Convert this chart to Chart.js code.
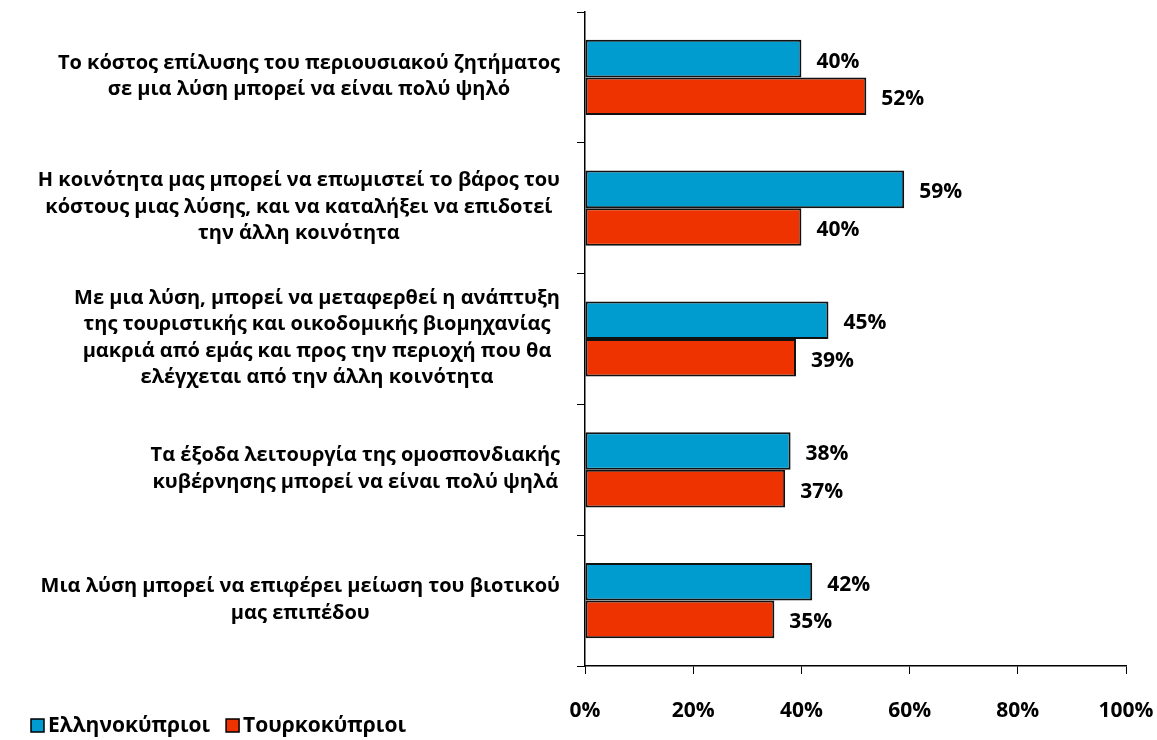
<!DOCTYPE html>
<html lang="el">
  <head>
    <meta charset="UTF-8" />
    <title>Ανησυχίες για τη λύση</title>
    <script src="https://cdn.jsdelivr.net/npm/chart.js"></script>
    <style>
      html, body {
        margin: 0;
        padding: 0;
        background: #fff;
      }
      .chart-container {
        position: relative;
        width: 1157px;
        height: 740px;
      }
    </style>
  </head>
  <body>
    <div class="chart-container">
      <canvas id="concernsChart"></canvas>
    </div>

    <script>
      const categories = [
        ["Το κόστος επίλυσης του περιουσιακού ζητήματος", "σε μια λύση μπορεί να είναι πολύ ψηλό"],
        ["Η κοινότητα μας μπορεί να επωμιστεί το βάρος του", "κόστους μιας λύσης, και να καταλήξει να επιδοτεί", "την άλλη κοινότητα"],
        ["Με μια λύση, μπορεί να μεταφερθεί η ανάπτυξη", "της τουριστικής και οικοδομικής βιομηχανίας", "μακριά από εμάς και προς την περιοχή που θα", "ελέγχεται από την άλλη κοινότητα"],
        ["Τα έξοδα λειτουργία της ομοσπονδιακής", "κυβέρνησης μπορεί να είναι πολύ ψηλά"],
        ["Μια λύση μπορεί να επιφέρει μείωση του βιοτικού", "μας επιπέδου"],
      ]
      const greekCypriots = [40, 59, 45, 38, 42]
      const turkishCypriots = [52, 40, 39, 37, 35]
      const seriesNames = ["Ελληνοκύπριοι", "Τουρκοκύπριοι"]
      const xTicks = [0, 20, 40, 60, 80, 100]

      const FONT = '"Open Sans", sans-serif'

      // category labels: each block centred on its own widest line, right edge near the axis
      const categoryLabels = {
        id: "categoryLabels",
        afterDraw(chart) {
          const ctx = chart.ctx
          const y = chart.scales.y
          ctx.save()
          ctx.font = "bold 20px " + FONT
          ctx.fillStyle = "#000"
          ctx.textAlign = "center"
          ctx.textBaseline = "middle"
          const lineH = 26.5
          categories.forEach((lines, i) => {
            const widest = Math.max(...lines.map((l) => ctx.measureText(l).width))
            const cx = y.right - 25 - widest / 2
            const cy = y.getPixelForValue(i) - 1
            const top = cy - ((lines.length - 1) * lineH) / 2
            lines.forEach((l, j) => ctx.fillText(l, cx, top + j * lineH))
          })
          ctx.restore()
        },
      }

      const valueLabels = {
        id: "valueLabels",
        afterDatasetsDraw(chart) {
          const ctx = chart.ctx
          ctx.save()
          ctx.font = "bold 21px " + FONT
          ctx.fillStyle = "#000"
          ctx.textAlign = "left"
          ctx.textBaseline = "middle"
          chart.data.datasets.forEach((ds, di) => {
            chart.getDatasetMeta(di).data.forEach((bar, i) => {
              ctx.fillText(ds.data[i] + "%", bar.x + 15, bar.y + 3)
            })
          })
          ctx.restore()
        },
      }

      const bottomLegend = {
        id: "bottomLegend",
        afterDraw(chart) {
          const ctx = chart.ctx
          ctx.save()
          ctx.font = "bold 21px " + FONT
          ctx.textBaseline = "middle"
          let x = 31
          const cy = 726
          chart.data.datasets.forEach((ds) => {
            ctx.fillStyle = ds.backgroundColor
            ctx.fillRect(x, cy - 7, 13, 13)
            ctx.strokeStyle = "#000"
            ctx.lineWidth = 1.5
            ctx.strokeRect(x, cy - 7, 13, 13)
            ctx.fillStyle = "#000"
            ctx.fillText(ds.label, x + 17, cy)
            x += 17 + ctx.measureText(ds.label).width + 16
          })
          ctx.restore()
        },
      }

      const ctx = document.getElementById("concernsChart").getContext("2d")
      new Chart(ctx, {
        type: "bar",
        data: {
          labels: categories,
          datasets: [
            {
              label: seriesNames[0],
              data: greekCypriots,
              backgroundColor: "#009BCF",
              borderColor: "#111",
              borderWidth: 2,
              borderSkipped: false,
            },
            {
              label: seriesNames[1],
              data: turkishCypriots,
              backgroundColor: "#EE3300",
              borderColor: "#111",
              borderWidth: 2,
              borderSkipped: false,
            },
          ],
        },
        options: {
          indexAxis: "y",
          responsive: true,
          maintainAspectRatio: false,
          animation: false,
          layout: { padding: { top: 12, right: 31, left: 0, bottom: 0 } },
          datasets: {
            bar: { categoryPercentage: 0.575, barPercentage: 1.0 },
          },
          plugins: {
            legend: { display: false },
            tooltip: { enabled: false },
          },
          scales: {
            x: {
              min: 0,
              max: 100,
              afterBuildTicks(scale) {
                scale.ticks = xTicks.map((v) => ({ value: v }))
              },
              afterFit(scale) {
                scale.height = 74
                scale.paddingLeft = 0
                scale.paddingRight = 0
              },
              grid: {
                drawOnChartArea: false,
                drawTicks: true,
                tickLength: 8,
                color: "#000",
              },
              border: { color: "#000", width: 1.5 },
              ticks: {
                padding: 24,
                color: "#000",
                font: { family: FONT, size: 21, weight: "bold" },
                callback: (v) => v + "%",
              },
            },
            y: {
              afterFit(scale) {
                scale.width = 585
              },
              grid: {
                drawOnChartArea: false,
                drawTicks: true,
                tickLength: 8,
                color: "#000",
              },
              border: { color: "#000", width: 1.5 },
              ticks: { display: false },
            },
          },
        },
        plugins: [categoryLabels, valueLabels, bottomLegend],
      })
    </script>
  </body>
</html>
